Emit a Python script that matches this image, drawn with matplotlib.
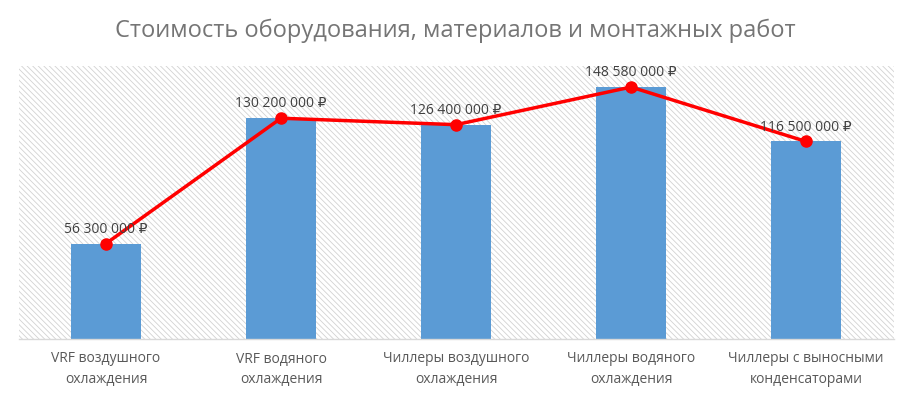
import matplotlib
matplotlib.use("Agg")
import matplotlib.pyplot as plt
from matplotlib.patches import Rectangle

categories = ["VRF воздушного\nохлаждения", "VRF водяного\nохлаждения",
              "Чиллеры воздушного\nохлаждения", "Чиллеры водяного\nохлаждения",
              "Чиллеры с выносными\nконденсаторами"]
values = [56300000, 130200000, 126400000, 148580000, 116500000]
labels = ["56 300 000 ₽", "130 200 000 ₽", "126 400 000 ₽", "148 580 000 ₽", "116 500 000 ₽"]
title = "Стоимость оборудования, материалов и монтажных работ"

plt.rcParams['font.family'] = ['Open Sans', 'DejaVu Sans']
plt.rcParams['hatch.linewidth'] = 0.6

fig = plt.figure(figsize=(9.10, 3.99), dpi=100)
ax = fig.add_axes([18.5/910, 60/399, 875/910, (339-66)/399])

x = list(range(len(values)))
bg = Rectangle((0, 0), 1, 1, transform=ax.transAxes, facecolor='white',
               edgecolor='#d2d2d2', linewidth=0, hatch='\\' * 6, zorder=0)
ax.add_patch(bg)

ax.bar(x, values, width=0.4, color='#5b9bd5', zorder=2)
ax.plot(x, values, color='#ff0000', lw=2.5, marker='o', markersize=8, zorder=3)
for xi, v, lab in zip(x, values, labels):
    ax.annotate(lab, (xi, v), xytext=(0, 5), textcoords='offset points',
                ha='center', va='bottom', fontsize=10, color='#404040', zorder=4)

ax.set_xlim(-0.5, 4.5)
ax.set_ylim(0, 161e6)
ax.set_yticks([])
ax.set_xticks(x)
ax.set_xticklabels(categories, fontsize=10, color='#595959', linespacing=1.5)
ax.tick_params(axis='x', length=0, pad=9)
for s in ['top', 'right', 'left']:
    ax.spines[s].set_visible(False)
ax.spines['bottom'].set_color('#d9d9d9')
ax.spines['bottom'].set_linewidth(1)

fig.text(0.5, 1 - 31/399, title, ha='center', va='center', fontsize=17, color='#757575')

fig.savefig("out.png", dpi=100)
